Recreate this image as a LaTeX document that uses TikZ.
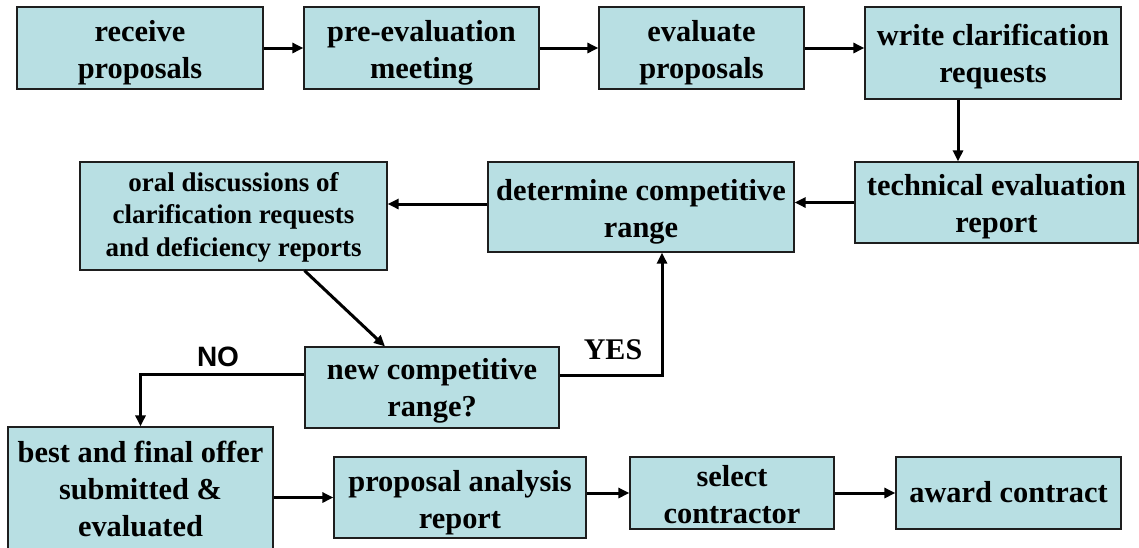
\documentclass[tikz,border=0pt]{standalone}
\usepackage{fontspec}
\setmainfont{Liberation Serif}
\newfontfamily\labelsans{Liberation Sans}
\usetikzlibrary{arrows.meta}
\definecolor{boxfill}{RGB}{184,223,227}
\definecolor{boxline}{RGB}{30,30,30}
\begin{document}
\begin{tikzpicture}[x=1pt,y=-1pt,
  procbox/.style={draw=boxline, line width=1.2pt, fill=boxfill, inner sep=0pt},
  boxtext/.style={align=center, inner sep=0pt, font=\bfseries\fontsize{30.4}{37}\selectfont},
  smalltext/.style={align=center, inner sep=0pt, font=\bfseries\fontsize{27}{32.5}\selectfont},
  arr/.style={line width=3pt, -{Triangle[length=11pt,width=10pt]}},
  yesno/.style={font=\bfseries\fontsize{30}{32}\selectfont},
]
\useasboundingbox (0,0) rectangle (1139,547);

% boxes: top row
\node[procbox, minimum width=246pt, minimum height=82pt] (recv)   at (140,48)    {};
\node[procbox, minimum width=235pt, minimum height=82pt] (preval) at (421.5,48)  {};
\node[procbox, minimum width=205pt, minimum height=82pt] (evalp)  at (701.5,48)  {};
\node[procbox, minimum width=256pt, minimum height=92pt] (write)  at (993,53)    {};
% boxes: middle row
\node[procbox, minimum width=283pt, minimum height=81pt]  (tech)   at (996.5,202.5) {};
\node[procbox, minimum width=306pt, minimum height=90pt]  (determ) at (641,207)     {};
\node[procbox, minimum width=307pt, minimum height=108pt] (oral)   at (233.5,216)   {};
% decision box
\node[procbox, minimum width=254pt, minimum height=81pt]  (newcr)  at (432,387.5)   {};
% boxes: bottom row
\node[procbox, minimum width=265pt, minimum height=126pt] (best)     at (140.5,490)  {};
\node[procbox, minimum width=252pt, minimum height=81pt]  (analysis) at (460,497.5)  {};
\node[procbox, minimum width=204pt, minimum height=72pt]  (select)   at (732,493)    {};
\node[procbox, minimum width=225pt, minimum height=72pt]  (award)    at (1008.5,493) {};

% box texts
\node[boxtext] (recvt)   at ([yshift=-5pt]recv.center)   {receive\\proposals};
\node[boxtext] (prevalt) at ([yshift=-5pt]preval.center) {pre-evaluation\\meeting};
\node[boxtext] (evalpt)  at ([yshift=-5pt]evalp.center)  {evaluate\\proposals};
\node[boxtext] (writet)  at ([yshift=-4pt]write.center)  {write clarification\\requests};
\node[boxtext] (techt)   at ([yshift=-4pt]tech.center)   {technical evaluation\\report};
\node[boxtext] (determt) at ([yshift=-4.5pt]determ.center) {determine competitive\\range};
\node[smalltext] (oralt) at ([yshift=-1pt]oral.center)   {oral discussions of\\clarification requests\\and deficiency reports};
\node[boxtext] (newcrt)  at ([yshift=-3pt]newcr.center)  {new competitive\\range?};
\node[boxtext] (bestt)   at ([yshift=1pt]best.center)    {best and final offer\\submitted \&\\evaluated};
\node[boxtext] (analysist) at ([yshift=-5pt]analysis.center) {proposal analysis\\report};
\node[boxtext] (selectt) at ([yshift=-2pt]select.center) {select\\contractor};
\node[boxtext] (awardt)  at ([yshift=1pt]award.center)   {award contract};

% branch labels
\node[yesno, font=\labelsans\bfseries\fontsize{28}{30}\selectfont] (nolbl) at (218,357) {NO};
\node[yesno] (yeslbl) at (613,350) {YES};

% helper coordinates
\coordinate (wx) at (958,0);
\coordinate (c1) at ([yshift=3pt]determ.west);

% top row flow
\draw[arr] (recv.east) -- (preval.west);
\draw[arr] (preval.east) -- (evalp.west);
\draw[arr] (evalp.east) -- (evalp.east -| write.west);
\draw[arr] (write.south -| wx) -- (tech.north -| wx);

% middle row flow
\draw[arr] (tech.west) -- (tech.west -| determ.east);
\draw[arr] (c1) -- (c1 -| oral.east);
\draw[arr] ([xshift=71pt]oral.south) -- ([xshift=-47pt]newcr.north);

% decision branches
\draw[arr] ([yshift=12pt]newcr.east) -| ([xshift=21pt]determ.south);
\draw[arr] ([yshift=13pt]newcr.west) -| (best.north);

% bottom row flow
\draw[arr] (analysis.west -| best.east) -- (analysis.west);
\draw[arr] (select.west -| analysis.east) -- (select.west);
\draw[arr] (select.east) -- (award.west);
\end{tikzpicture}
\end{document}
